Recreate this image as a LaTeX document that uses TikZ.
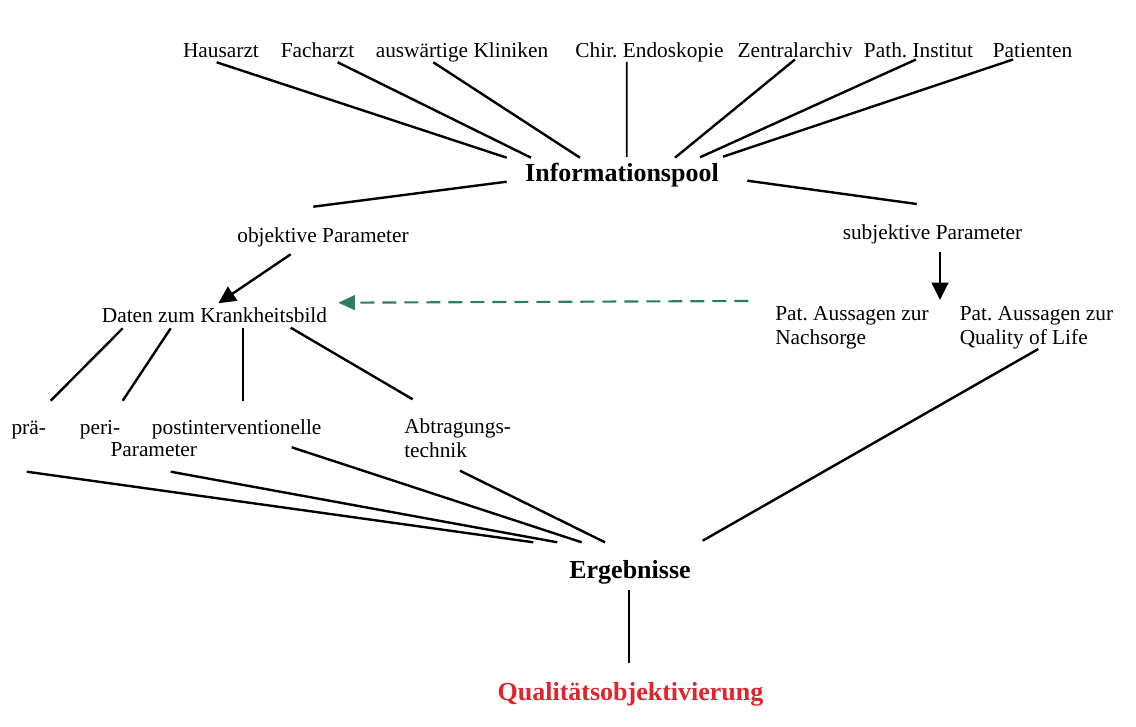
\documentclass[tikz,border=0pt]{standalone}
\usepackage{fontspec}
\setmainfont{Liberation Serif}
\usetikzlibrary{arrows.meta}
\definecolor{dashgreen}{RGB}{45,125,95}
\definecolor{resultred}{RGB}{225,35,45}

\begin{document}
\frenchspacing
\begin{tikzpicture}[x=0.75pt,y=-0.75pt,every node/.style={inner sep=0pt,font=\fontsize{16}{18}\selectfont},boldlabel/.style={font=\bfseries\fontsize{19.5}{22}\selectfont},conn/.style={line width=1.8pt},vconn/.style={line width=1.2pt},tri/.style={-{Triangle[length=13pt,width=12.5pt]}}]
\useasboundingbox (0,0) rectangle (1136,727);
\node[anchor=base] (hausarzt) at (221,58) {Hausarzt};
\node[anchor=base] (facharzt) at (317.5,58) {Facharzt};
\node[anchor=base] (kliniken) at (462,58) {auswärtige Kliniken};
\node[anchor=base] (endoskopie) at (649.5,58) {Chir. Endoskopie};
\node[anchor=base] (archiv) at (795,58) {Zentralarchiv};
\node[anchor=base] (institut) at (918.5,58) {Path. Institut};
\node[anchor=base] (patienten) at (1032.5,58) {Patienten};
\node[anchor=base,boldlabel] (info) at (622,181.7) {Informationspool};
\node[anchor=base] (objektiv) at (323,242.7) {objektive Parameter};
\node[anchor=base] (subjektiv) at (932.5,240) {subjektive Parameter};
\node[anchor=base] (daten) at (214.5,322.7) {Daten zum Krankheitsbild};
\node[anchor=base west,align=left] (nachsorge) at (775,345) {Pat. Aussagen zur\\Nachsorge};
\node[anchor=base west,align=left] (quality) at (959.5,345) {Pat. Aussagen zur\\Quality of Life};
\node[anchor=base] (prae) at (28.7,435) {prä-};
\node[anchor=base] (peri) at (100,435) {peri-};
\node[anchor=base] (post) at (236.7,435) {postinterventionelle};
\node[anchor=base] (param) at (153.8,456.7) {Parameter};
\node[anchor=base west,align=left] (abtrag) at (404,457) {Abtragungs-\\technik};
\node[anchor=base,boldlabel] (ergebnis) at (630,578.3) {Ergebnisse};
\node[anchor=base,boldlabel,text=resultred] (qualitaet) at (630.5,700) {Qualitätsobjektivierung};
\draw[conn] ([shift={(-4.3,4.3)}]hausarzt.base) -- ([shift={(-115.3,-24)}]info.base);
\draw[conn] ([shift={(20.2,4.3)}]facharzt.base) -- ([shift={(-91,-24)}]info.base);
\draw[conn] ([shift={(-28.7,4.3)}]kliniken.base) -- ([shift={(-42,-24)}]info.base);
\draw[vconn] ([shift={(-22.8,4)}]endoskopie.base) -- ([shift={(4.7,-24.7)}]info.base);
\draw[conn] ([shift={(0,1.5)}]archiv.base) -- ([shift={(53,-24)}]info.base);
\draw[conn] ([shift={(-2.5,1.5)}]institut.base) -- ([shift={(78,-24.4)}]info.base);
\draw[conn] ([shift={(-19.5,1.5)}]patienten.base) -- ([shift={(101,-25)}]info.base);
\draw[conn] ([shift={(-115.3,0)}]info.base) -- ([shift={(-9.7,-36)}]objektiv.base);
\draw[conn] ([shift={(125.3,-1)}]info.base) -- ([shift={(-15.8,-36)}]subjektiv.base);
\draw[conn,tri] ([shift={(-32.3,11.6)}]objektiv.base) -- ([shift={(3.8,-19.4)}]daten.base);
\draw[conn,tri] ([shift={(7.5,11.7)}]subjektiv.base) -- ([shift={(165,-45)}]nachsorge.base west);
\draw[line width=1.6pt,dashgreen,dash pattern=on 10.5pt off 6pt,-{Triangle[length=12.5pt,width=11pt]}] ([shift={(-26.7,-44)}]nachsorge.base west) -- ([shift={(123.8,-20)}]daten.base);
\draw[conn] ([shift={(-91.8,5.6)}]daten.base) -- ([shift={(22,-34.3)}]prae.base);
\draw[conn] ([shift={(-43.8,5.6)}]daten.base) -- ([shift={(22.7,-34.3)}]peri.base);
\draw[vconn] ([shift={(28.2,5.6)}]daten.base) -- ([shift={(6,-34.3)}]post.base);
\draw[conn] ([shift={(76.2,5)}]daten.base) -- ([shift={(8.7,-57.7)}]abtrag.base west);
\draw[conn] ([shift={(-2,36.7)}]prae.base) -- ([shift={(-96.7,-36)}]ergebnis.base);
\draw[conn] ([shift={(16.9,15)}]param.base) -- ([shift={(-72.7,-36)}]ergebnis.base);
\draw[conn] ([shift={(55,12.3)}]post.base) -- ([shift={(-48.3,-36)}]ergebnis.base);
\draw[conn] ([shift={(56,13.7)}]abtrag.base west) -- ([shift={(-25,-36)}]ergebnis.base);
\draw[conn] ([shift={(78.8,4)}]quality.base west) -- ([shift={(72.7,-37.6)}]ergebnis.base);
\draw[vconn] ([shift={(-1,11.7)}]ergebnis.base) -- ([shift={(-1.5,-36.7)}]qualitaet.base);
\end{tikzpicture}
\end{document}
